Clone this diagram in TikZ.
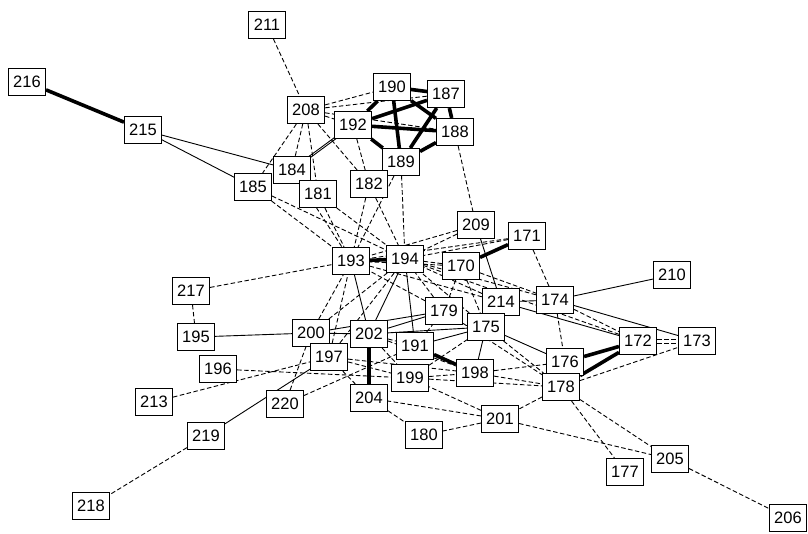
\documentclass[tikz,border=0pt]{standalone}
\usepackage{fontspec}
\setmainfont{Liberation Sans}
\usetikzlibrary{positioning,backgrounds}

\begin{document}
\begin{tikzpicture}[x=1pt, y=-1pt,
  box/.style={draw, fill=white, line width=1.1pt, inner sep=0pt,
    minimum width=37pt, minimum height=27pt,
    font=\fontsize{16.5}{16.5}\selectfont},
  heavy/.style={line width=3.6pt},
  tie/.style={line width=0.9pt},
  weak/.style={line width=0.9pt, dash pattern=on 4.5pt off 2.5pt},
]
  \useasboundingbox (0,0) rectangle (808,533);

  % Boxes (positions in pixels of the reference)
  \foreach \n/\x/\y in {211/267/25, 216/27/82, 215/143/130, 208/306/110,
      190/392/87, 187/446/94, 192/353/125, 188/455/132, 189/401/162,
      184/292/170, 185/253/187, 181/318/194, 182/369/184, 209/476/225,
      171/527/236, 193/351/261, 194/405/259, 170/461/266, 210/672/275,
      217/191/291, 174/555/300, 214/501/302, 179/444/311, 175/486/327,
      195/196/337, 200/311/333, 202/369/334, 172/638/341, 173/697/341,
      191/415/346, 197/329/357, 196/218/369, 176/565/362, 199/410/378,
      198/475/373, 178/561/387, 213/154/402, 220/285/404, 204/369/398,
      201/500/419, 180/424/435, 219/206/436, 177/625/472, 205/670/459,
      218/91/506, 206/788/518}
    \node[box] (n\n) at (\x,\y) {\n};

  \begin{scope}[on background layer]
  % Weak ties
  \foreach \a/\b in {211/208, 208/190, 208/187, 208/192, 208/188, 208/184,
      208/185, 208/181, 208/182, 192/182, 192/189, 184/193, 185/193,
      185/194, 181/193, 181/194, 182/193, 182/194, 189/193, 189/194,
      188/209, 209/194, 209/193, 171/194, 171/193, 171/174, 170/194,
      170/193, 214/194, 214/193, 174/194, 172/194, 175/194, 179/194,
      179/193, 200/193, 197/193, 200/194, 197/194, 217/193, 217/195,
      196/199, 213/197, 220/200, 220/191, 197/199, 197/198, 197/204,
      202/191, 202/199, 202/198, 191/179, 199/175, 199/198, 199/178,
      198/178, 198/176, 175/178, 179/178, 174/176, 174/172, 170/174,
      170/175, 170/179, 178/173, 178/201, 178/177, 178/205, 201/205,
      201/204, 201/180, 204/180, 201/199, 219/218, 205/206, 214/175}
    \draw[weak] (n\a) -- (n\b);
  \draw[weak] ([yshift=-2pt]n172.east) -- ([yshift=-2pt]n173.west);
  \draw[weak] ([yshift=2pt]n172.east) -- ([yshift=2pt]n173.west);

  % Plain ties
  \foreach \a/\b in {215/184, 215/185, 193/202, 194/202, 194/191,
      209/214, 214/174, 214/172, 174/173, 174/210, 195/200, 200/202,
      200/179, 202/179, 202/175, 191/175, 175/198, 175/176, 219/197}
    \draw[tie] (n\a) -- (n\b);
  \draw[tie] ([xshift=-1.5pt]n184.center) -- ([xshift=-1.5pt]n192.center);
  \draw[tie] ([xshift=1.5pt]n184.center) -- ([xshift=1.5pt]n192.center);

  % Strong ties
  \foreach \a/\b in {216/215, 190/187, 190/192, 192/187, 190/189,
      190/188, 187/189, 187/188, 192/188, 192/189, 188/189, 193/194,
      170/171, 202/204, 191/198, 176/172, 178/172}
    \draw[heavy] (n\a) -- (n\b);
  \end{scope}
\end{tikzpicture}
\end{document}
